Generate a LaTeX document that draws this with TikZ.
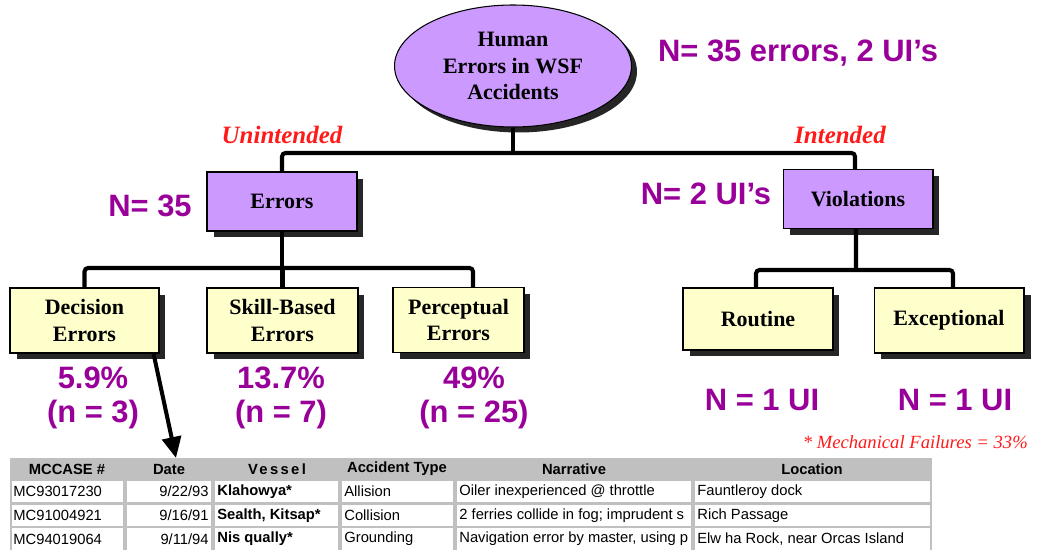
\documentclass[tikz,border=0pt]{standalone}
\usepackage{fontspec}
\setmainfont{Liberation Serif}
\newfontfamily\arial{Liberation Sans}
\usepackage{tikz}
\usetikzlibrary{arrows.meta, positioning, shapes.geometric, shadows}

\definecolor{lavender}{HTML}{CC99FF}
\definecolor{paleyellow}{HTML}{FFFFCC}
\definecolor{plum}{HTML}{990099}
\definecolor{redtxt}{HTML}{FF1A1A}
\definecolor{tblgray}{HTML}{C0C0C0}
\definecolor{shadegray}{HTML}{262626}

\newcommand{\boxfont}{\bfseries\fontsize{12.5}{15.2}\selectfont}
\newcommand{\cellfont}{\arial\fontsize{8.4}{9.5}\selectfont}

\tikzset{
  conn/.style={line width=2.3pt, rounded corners=2pt},
  boxshadow/.style={drop shadow={shadow xshift=#1, shadow yshift=-#1, fill=shadegray, opacity=1}},
  boxshadow/.default=0.13cm,
  catbox/.style={draw, line width=0.6pt, fill=lavender, minimum width=3cm, minimum height=1.18cm, font=\boxfont, boxshadow},
  subbox/.style={draw, line width=0.6pt, fill=paleyellow, minimum width=3cm, minimum height=1.3cm, font=\boxfont, boxshadow},
  topell/.style={ellipse, draw, line width=0.6pt, fill=lavender, minimum width=4.74cm, minimum height=2.44cm, inner sep=0pt, font=\boxfont, boxshadow=0.11cm},
  bignum/.style={text=plum, font=\arial\bfseries\fontsize{17.6}{19.4}\selectfont},
  redlbl/.style={text=redtxt, font=\bfseries\itshape\fontsize{14.2}{16}\selectfont},
  mechtxt/.style={text=redtxt, font=\itshape\fontsize{10.6}{12}\selectfont},
  hdtxt/.style={font=\cellfont\bfseries, inner sep=0pt},
  celltxt/.style={font=\cellfont, inner sep=0pt},
}

\begin{document}
\begin{tikzpicture}[x=0.02cm, y=-0.02cm, every node/.style={align=center}]
  \useasboundingbox (0,0) rectangle (1037,550);

  % tree of error types
  \node[topell] (top) at (513,66) {Human\\Errors in WSF\\Accidents};
  \node[catbox] (err) at (282,201.5) {Errors};
  \node[catbox] (viol) at (858,199) {Violations};
  \node[subbox, minimum width=2.98cm] (dec) at (84.5,320.5) {Decision\\Errors};
  \node[subbox, minimum width=3.02cm] (skill) at (282.5,320.5) {Skill-Based\\Errors};
  \node[subbox, minimum width=2.62cm] (perc) at (458.5,320) {Perceptual\\Errors};
  \node[subbox, minimum height=1.24cm] (rout) at (758,319) {Routine};
  \node[subbox] (exc) at (949,320.5) {Exceptional};

  \coordinate (tbar) at (513,153);
  \coordinate (ebar) at (282,268);
  \coordinate (vbar) at (856,270);
  \draw[conn] (top.south) -- (tbar);
  \draw[conn] (err.north) |- (tbar) -| ([xshift=-0.06cm]viol.north);
  \draw[conn] (err.south) -- (ebar);
  \draw[conn] (dec.north) |- (ebar) -| ([xshift=0.29cm]perc.north);
  \draw[conn] (skill.north) -- (skill.north |- ebar);
  \draw[conn] ([xshift=-0.04cm]viol.south) -- (vbar);
  \draw[conn] ([xshift=-0.04cm]rout.north) |- (vbar) -| ([xshift=0.08cm]exc.north);

  % counts and labels
  \node[bignum] (ntot) at (798,53) {N= 35 errors, 2 UI’s};
  \node[redlbl] (unint) at (282,135) {Unintended};
  \node[redlbl] (intd) at (840,135) {Intended};
  \node[bignum] (nerr) at (150,206) {N= 35};
  \node[bignum] (nviol) at (706,194) {N= 2 UI’s};
  \node[bignum] (pdec) at (93,398) {5.9\%\\(n = 3)};
  \node[bignum] (pskill) at (281,398) {13.7\%\\(n = 7)};
  \node[bignum] (pperc) at (474,398) {49\%\\(n = 25)};
  \node[bignum] (nrout) at (762,400) {N = 1 UI};
  \node[bignum] (nexc) at (955,400) {N = 1 UI};
  \node[mechtxt, anchor=east] (mech) at (1034,442) {* Mechanical Failures = 33\%};

  % case table
  \fill[tblgray] (10,458) rectangle (932,551);
  \foreach \ya/\yb in {481/502, 505/526, 528/551}
    \foreach \xa/\xb in {12/123, 127/211, 215/338, 342/453, 457/691, 695/930}
      \fill[white] (\xa,\ya) rectangle (\xb,\yb);
  \foreach \x/\txt [count=\i] in {67/MCCASE \#, 169/Date, 277/{\addfontfeature{LetterSpace=16}Vessel}, 397/Accident Type, 574/Narrative, 812/Location}
    \node[hdtxt] (h\i) at (\x,469) {\txt};
  \foreach \y/\mc/\dm/\dd/\dy/\ves/\typ/\nar/\loc [count=\r] in {
      491.5/MC93017230/9/22/93/Klahowya*/Allision/Oiler inexperienced @ throttle/Fauntleroy dock,
      515.5/MC91004921/9/16/91/{Sealth, Kitsap*}/Collision/{2 ferries collide in fog; imprudent s}/Rich Passage,
      539/MC94019064/9/11/94/Nis qually*/Grounding/{Navigation error by master, using p}/{Elw ha Rock, near Orcas Island}} {
    \node[celltxt, anchor=west] (mc\r) at (13,\y) {\mc};
    \node[celltxt, anchor=east] (dt\r) at (209,\y) {\dm/\dd/\dy};
    \node[celltxt, anchor=west, font=\cellfont\bfseries] (ves\r) at (217,\y) {\ves};
    \node[celltxt, anchor=west] (typ\r) at (344,\y) {\typ};
    \begin{scope}
      \clip (457,458) rectangle (691,551);
      \node[celltxt, anchor=west] (nar\r) at (459,\y) {\nar};
    \end{scope}
    \node[celltxt, anchor=west] (loc\r) at (697,\y) {\loc};
  }

  % pointer to the decision error cases
  \coordinate (arrtip) at (176,458);
  \draw[conn, -{Triangle[length=4.2mm, width=3.8mm]}] ([xshift=-0.12cm]dec.south east) -- (arrtip);
\end{tikzpicture}
\end{document}
